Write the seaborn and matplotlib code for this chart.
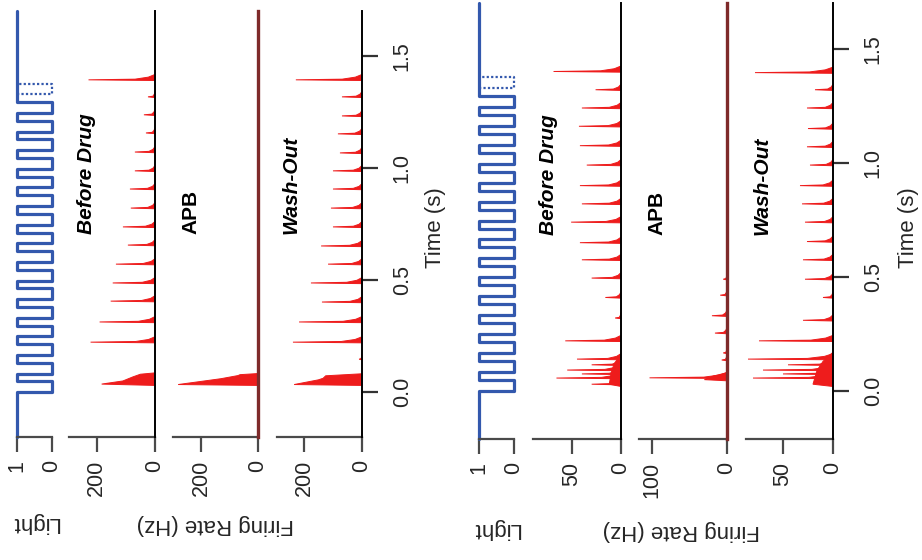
import numpy as np
import matplotlib
matplotlib.use("Agg")
import matplotlib.pyplot as plt
import seaborn as sns
import pandas as pd

# ---------------- data ----------------
time_ticks = [0.0, 0.5, 1.0, 1.5]
time_ticklabels = ["0.0", "0.5", "1.0", "1.5"]
panel_titles = ["Before Drug", "APB", "Wash-Out"]

# light flashes (onsets in s), drawn as a step trace 1 -> 0 -> 1
flash_onsets = [0.000, 0.083, 0.166, 0.249, 0.332, 0.415, 0.498, 0.581,
                0.664, 0.747, 0.830, 0.913, 0.996, 1.079, 1.162, 1.245]
flash_dotted_onset = [1.328]
flash_len = 0.048

# ---- left block (high firing rates) ----
L_before_spk_t = [0.223, 0.313, 0.406, 0.487, 0.571, 0.656, 0.737, 0.821,
                  0.906, 0.987, 1.071, 1.156, 1.237, 1.317, 1.393]
L_before_spk_r = [221, 190, 152, 145, 134, 93, 110, 83, 86, 69, 69, 31, 38, 24, 228]
L_before_burst_t = [0.030, 0.036, 0.050, 0.068, 0.080, 0.086]
L_before_burst_r = [0, 183, 110, 76, 50, 0]

L_apb_spk_t = []
L_apb_spk_r = []
L_apb_burst_t = [0.030, 0.034, 0.060, 0.074, 0.078, 0.083]
L_apb_burst_r = [0, 280, 130, 70, 63, 0]

L_wash_spk_t = [0.147, 0.223, 0.313, 0.402, 0.487, 0.571, 0.652, 0.737, 0.821,
                0.906, 0.987, 1.067, 1.152, 1.232, 1.317, 1.393]
L_wash_spk_r = [10, 238, 217, 138, 176, 117, 141, 100, 107, 100, 100, 76, 83, 69, 69, 228]
L_wash_burst_t = [0.030, 0.034, 0.055, 0.062, 0.073, 0.082]
L_wash_burst_r = [0, 234, 150, 134, 125, 0]

# ---- right block (lower firing rates) ----
R_before_spk_t = [0.030, 0.057, 0.075, 0.092, 0.115, 0.140, 0.220, 0.320, 0.410,
                  0.495, 0.575, 0.650, 0.740, 0.820, 0.900, 0.990, 1.075, 1.160,
                  1.240, 1.320, 1.400]
R_before_spk_r = [30, 66, 40, 55, 30, 45, 57, 6, 16, 30, 40, 42, 51, 40, 42, 35,
                  42, 43, 40, 26, 69]
R_before_burst_t = [0.020, 0.030, 0.080, 0.120, 0.160]
R_before_burst_r = [0, 12, 10, 7, 0]

R_apb_spk_t = [0.058, 0.136, 0.167, 0.254, 0.330, 0.420, 0.490]
R_apb_spk_r = [103, 7, 5, 16, 20, 9, 5]
R_apb_burst_t = [0.045, 0.050, 0.066, 0.080]
R_apb_burst_r = [0, 30, 18, 0]

R_wash_spk_t = [0.057, 0.075, 0.092, 0.115, 0.140, 0.220, 0.310, 0.410, 0.490,
                0.575, 0.655, 0.740, 0.820, 0.900, 0.990, 1.070, 1.150, 1.240,
                1.320, 1.395]
R_wash_spk_r = [80, 50, 70, 45, 85, 74, 30, 10, 28, 30, 26, 28, 31, 33, 23, 26,
                25, 26, 18, 78]
R_wash_burst_t = [0.020, 0.030, 0.090, 0.130, 0.170]
R_wash_burst_r = [0, 20, 16, 10, 0]

light_ticks = [1, 0]
L_rate_ticks = [[200, 0], [200, 0], [200, 0]]
R_rate_ticks = [[50, 0], [100, 0], [50, 0]]

# ---------------- style ----------------
sns.set_theme(style="white")
plt.rcParams["font.family"] = ["Liberation Sans", "DejaVu Sans"]

RED = "#ee1c1c"
BLUE = "#3358ad"
SPINE = "#4a4a4a"
FS = 15.5

W, H = 922, 560
fig = plt.figure(figsize=(W / 100, H / 100), dpi=100)
fig.patch.set_facecolor("white")


def add_ax(x0, x1, y0, y1):
    ax = fig.add_axes([x0 / W, 1 - y1 / H, (x1 - x0) / W, (y1 - y0) / H])
    ax.set_facecolor("none")
    ax.grid(False)
    return ax


def light_panel(x0, x1, y0, y1, tlim):
    ax = add_ax(x0, x1, y0, y1)
    ts, vs = [tlim[0]], [1]
    for on in flash_onsets:
        ts += [on, on, on + flash_len, on + flash_len]
        vs += [1, 0, 0, 1]
    ts.append(tlim[1])
    vs.append(1)
    df = pd.DataFrame({"t": ts, "v": vs})
    sns.lineplot(data=df, x="v", y="t", orient="y", sort=False, estimator=None,
                 ax=ax, color=BLUE, lw=2.3, clip_on=False)
    for on in flash_dotted_onset:
        dd = pd.DataFrame({"t": [on, on, on + flash_len, on + flash_len],
                           "v": [1, 0, 0, 1]})
        sns.lineplot(data=dd, x="v", y="t", orient="y", sort=False, estimator=None,
                     ax=ax, color=BLUE, lw=1.6, ls=(0, (1, 1)), clip_on=False)
    ax.set_xlim(1, 0)
    ax.set_ylim(*tlim)
    for s in ["top", "left", "right"]:
        ax.spines[s].set_visible(False)
    ax.spines["bottom"].set_color(SPINE)
    ax.spines["bottom"].set_linewidth(1.6)
    ax.set_xticks(light_ticks)
    ax.set_xticklabels([str(v) for v in light_ticks])
    ax.set_yticks([])
    ax.tick_params(axis="x", direction="out", length=10.5, width=1.6, color=SPINE,
                   labelsize=FS, labelrotation=90, pad=6, bottom=True)
    ax.set_xlabel("")
    ax.set_ylabel("")
    return ax


def draw_spike(ax, t, p):
    ts = [t - 0.003, t, t + 0.003, t + 0.012, t + 0.024]
    rs = [0, p, 0.3 * p, 0.1 * p, 0]
    ax.fill(rs, ts, color=RED, lw=0.7, zorder=3)


def rate_panel(x0, x1, y0, y1, tlim, vmax, ticks, spk_t, spk_r, bt, br,
               zero_color="black", zero_lw=1.4, time_axis=False):
    ax = add_ax(x0, x1, y0, y1)
    ax.fill(br, bt, color=RED, lw=0.7, zorder=3)
    for t, p in zip(spk_t, spk_r):
        draw_spike(ax, t, p)
    ax.set_xlim(vmax, 0)
    ax.set_ylim(*tlim)
    for s in ["top", "left"]:
        ax.spines[s].set_visible(False)
    ax.spines["bottom"].set_color(SPINE)
    ax.spines["bottom"].set_linewidth(1.6)
    ax.spines["right"].set_color(zero_color)
    ax.spines["right"].set_linewidth(zero_lw)
    ax.spines["right"].set_zorder(5)
    ax.set_xticks(ticks)
    ax.set_xticklabels([str(v) for v in ticks])
    ax.tick_params(axis="x", direction="out", length=10.5, width=1.6, color=SPINE,
                   labelsize=FS, labelrotation=90, pad=6, bottom=True)
    if time_axis:
        ax.yaxis.tick_right()
        ax.set_yticks(time_ticks)
        ax.set_yticklabels(time_ticklabels)
        ax.tick_params(axis="y", direction="out", length=11.5, width=1.6,
                       color="#333333", labelsize=FS, pad=10, right=True,
                       left=False, labelright=True, labelleft=False)
        for lbl in ax.get_yticklabels():
            lbl.set_rotation(90)
            lbl.set_ha("left")
            lbl.set_va("center")
    else:
        ax.set_yticks([])
    return ax


def ftext(x, y, s, **kw):
    fig.text(x / W, 1 - y / H, s, **kw)


# ---------------- left block ----------------
tl = (-0.2, 1.7)
ly0, ly1 = 11, 437
light_panel(17, 52, ly0, ly1, tl)
rate_panel(69, 155, ly0, ly1, tl, 295, L_rate_ticks[0], L_before_spk_t, L_before_spk_r,
           L_before_burst_t, L_before_burst_r)
rate_panel(173, 258, ly0, ly1, tl, 298, L_rate_ticks[1], L_apb_spk_t, L_apb_spk_r,
           L_apb_burst_t, L_apb_burst_r, zero_color="#7e2a2a", zero_lw=2.4)
rate_panel(277, 362, ly0, ly1, tl, 293, L_rate_ticks[2], L_wash_spk_t, L_wash_spk_r,
           L_wash_burst_t, L_wash_burst_r, time_axis=True)

# ---------------- right block ----------------
tr = (-0.21, 1.7)
ry0, ry1 = 3, 439
light_panel(479, 514, ry0, ry1, tr)
rate_panel(533, 621, ry0, ry1, tr, 90, R_rate_ticks[0], R_before_spk_t, R_before_spk_r,
           R_before_burst_t, R_before_burst_r)
rate_panel(639, 727, ry0, ry1, tr, 117, R_rate_ticks[1], R_apb_spk_t, R_apb_spk_r,
           R_apb_burst_t, R_apb_burst_r, zero_color="#7e2a2a", zero_lw=2.4)
rate_panel(746, 833, ry0, ry1, tr, 87, R_rate_ticks[2], R_wash_spk_t, R_wash_spk_r,
           R_wash_burst_t, R_wash_burst_r, time_axis=True)

# ---------------- texts ----------------
title_props = [dict(weight="bold", style="italic"), dict(weight="bold"),
               dict(weight="bold", style="italic")]
for xs, yb in [([86, 191, 291], 234), ([549, 657, 762], 235)]:
    for x, title, tp in zip(xs, panel_titles, title_props):
        ftext(x, yb, title, rotation=90, rotation_mode="anchor", ha="left",
              va="center", fontsize=15, color="black", **tp)

for x in [435, 908]:
    ftext(x, 228, "Time (s)", rotation=90, ha="center", va="center", fontsize=16)

ftext(35, 523, "Light", rotation=180, ha="center", va="center", fontsize=16)
ftext(215, 525, "Firing Rate (Hz)", rotation=180, ha="center", va="center", fontsize=16)
ftext(496, 529, "Light", rotation=180, ha="center", va="center", fontsize=16)
ftext(681, 530, "Firing Rate (Hz)", rotation=180, ha="center", va="center", fontsize=16)

fig.savefig("out.png", dpi=100)
